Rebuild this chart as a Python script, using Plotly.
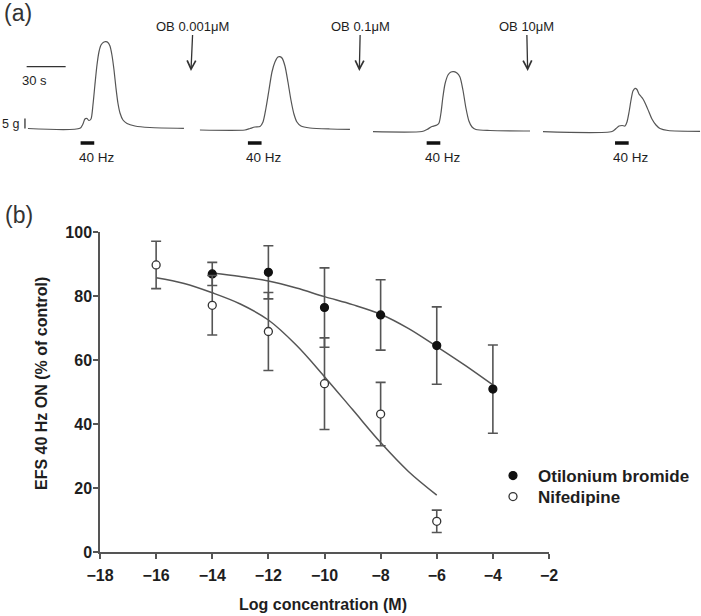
import plotly.graph_objects as go

# ---------------- Panel (b) data ----------------
log_conc_ob = [-14, -12, -10, -8, -6, -4]
efs_ob = [86.9, 87.4, 76.4, 74.1, 64.5, 50.9]
sem_ob = [3.6, 8.3, 12.4, 11.0, 12.1, 13.8]

log_conc_nif = [-16, -14, -12, -10, -8, -6]
efs_nif = [89.7, 77.1, 68.9, 52.6, 43.1, 9.6]
sem_nif = [7.4, 9.3, 12.2, 14.3, 9.9, 3.5]

fit_x_ob = [-14, -13, -12, -11, -10, -9, -8, -7, -6, -5, -4]
fit_y_ob = [87.2, 86.1, 84.7, 82.5, 79.8, 77.3, 74.3, 69.8, 64.2, 58.4, 52.2]
fit_x_nif = [-16, -15, -14, -13, -12, -11, -10, -9, -8, -7, -6]
fit_y_nif = [85.7, 83.9, 81.0, 77.5, 72.5, 64.6, 54.8, 44.5, 34.2, 25.1, 17.8]

x_ticks = [-18, -16, -14, -12, -10, -8, -6, -4, -2]
y_ticks = [0, 20, 40, 60, 80, 100]

# ---------------- Panel (a) data (time s, tension g) ----------------
t1_time = [0, 40, 42.3, 43.8, 45.4, 46.9, 48.5, 50, 51.5, 53.1, 54.6, 56.2, 58.5, 60, 61.5,
           63.1, 64.6, 66.2, 67.7, 69.2, 70.8, 73.1, 76.2, 82.3, 93.8, 120]
t1_tension = [0.75, 0.85, 3, 5.5, 5.75, 4.75, 5.5, 12.5, 22.5, 32.5, 39, 42.5, 44, 44.15, 43.75,
              42, 37.5, 30, 21, 13.5, 8.5, 5, 3.25, 2, 1.25, 0.85]

t2_time = [0, 34.6, 38.5, 42.3, 46.2, 48.5, 50.8, 53.1, 55.4, 57.7, 60, 61.5, 63.1, 65.4,
           67.7, 70, 72.3, 74.6, 77.7, 84.6, 100, 115.4]
t2_tension = [0, 0, 0.75, 1.5, 1.75, 4, 11, 20, 29, 34, 36.5, 36.65, 36, 32,
              24, 15, 8, 4, 2, 1, 0.5, 0.35]

t3_time = [0, 37.7, 41.5, 45.4, 49.2, 50.8, 52.3, 53.8, 55.4, 57.7, 60, 62.3, 64.6, 66.9,
           69.2, 71.5, 73.8, 76.2, 79.2, 90, 120.8]
t3_tension = [-0.85, -0.75, 0.25, 1.75, 2.5, 3.5, 8.5, 16.5, 23, 27.5, 29, 29.15, 28.5, 26.5,
              20, 11, 4.5, 1.5, 0.25, -0.25, -0.5]

t4_time = [0, 53.1, 56.2, 58.5, 60.8, 63.1, 64.6, 66.2, 67.7, 69.2, 70.8, 72.3, 73.8, 75.4,
           76.9, 79.2, 81.5, 83.8, 86.9, 90, 96.2, 120.8]
t4_tension = [-0.85, -0.75, 0.75, 2, 2.25, 2, 4, 9, 15, 19.5, 20.85, 20.25, 18, 16.75,
              15.5, 12.5, 9, 5.5, 2.5, 0.75, -0.25, -0.65]

segment_start = [21.5, 153.8, 286.9, 417.7]      # recording time of each segment (s)
stim_onset = [40.5, 36.9, 41.3, 55.4]            # within-segment 40 Hz onset (s)
stim_duration = 10.5
stim_label = "40 Hz"

drug_labels = ["OB 0.001\u03bcM", "OB 0.1\u03bcM", "OB 10\u03bcM"]
drug_time = [146.9, 276.4, 405.9]

scale_time = 30   # s
scale_tension = 5  # g

# ---------------- Figure ----------------
W, H = 701, 616
TXT = "#1e1e1e"
FONT = "Liberation Sans, Arial, sans-serif"


def px(x, y):
    return x / W, 1 - y / H


fig = go.Figure()

traces_a = [(t1_time, t1_tension), (t2_time, t2_tension),
            (t3_time, t3_tension), (t4_time, t4_tension)]
for i, (tt, gg) in enumerate(traces_a):
    fig.add_trace(go.Scatter(
        x=[segment_start[i] + t for t in tt], y=gg, xaxis="x2", yaxis="y2",
        mode="lines", line=dict(color="#555555", width=1.2, shape="spline", smoothing=0.7),
        showlegend=False, hoverinfo="skip"))
    on = segment_start[i] + stim_onset[i]
    fig.add_trace(go.Scatter(
        x=[on, on + stim_duration], y=[-6.5, -6.5], xaxis="x2", yaxis="y2",
        mode="lines", line=dict(color="#111111", width=3.5),
        showlegend=False, hoverinfo="skip"))
    fig.add_annotation(x=on - 2.8, y=-13.5, xref="x2", yref="y2", text=stim_label,
                       showarrow=False, xanchor="left", yanchor="middle",
                       font=dict(size=13.5, color=TXT, family=FONT))

# scale bars
fig.add_trace(go.Scatter(x=[20.5, 20.5 + scale_time], y=[31.65, 31.65], xaxis="x2", yaxis="y2",
                         mode="lines", line=dict(color="#333333", width=1.3),
                         showlegend=False, hoverinfo="skip"))
fig.add_trace(go.Scatter(x=[19.2, 19.2], y=[0.75, 0.75 + scale_tension], xaxis="x2", yaxis="y2",
                         mode="lines", line=dict(color="#333333", width=1.3),
                         showlegend=False, hoverinfo="skip"))
fig.add_annotation(x=26.9, y=25, xref="x2", yref="y2", text=f"{scale_time} s",
                   showarrow=False, xanchor="center", yanchor="middle",
                   font=dict(size=13, color=TXT, family=FONT))
fig.add_annotation(x=0.3, y=2.8, xref="x2", yref="y2", text=f"{scale_tension} g",
                   showarrow=False, xanchor="left", yanchor="middle",
                   font=dict(size=12.5, color=TXT, family=FONT))

for lbl, tx, dx in zip(drug_labels, drug_time, [2, 1, -1]):
    fig.add_annotation(x=tx, y=29.5, xref="x2", yref="y2", text=lbl, showarrow=True,
                       ax=dx, ay=-45, arrowhead=5, arrowsize=1.3, arrowwidth=1.3,
                       arrowcolor="#333333", font=dict(size=13, color=TXT, family=FONT))

# panel (b) fitted curves
fig.add_trace(go.Scatter(x=fit_x_ob, y=fit_y_ob, mode="lines",
                         line=dict(color="#555555", width=1.5, shape="spline"),
                         showlegend=False, hoverinfo="skip"))
fig.add_trace(go.Scatter(x=fit_x_nif, y=fit_y_nif, mode="lines",
                         line=dict(color="#555555", width=1.5, shape="spline"),
                         showlegend=False, hoverinfo="skip"))

err_style = dict(type="data", thickness=1.6, width=5, color="#555555")
fig.add_trace(go.Scatter(
    x=log_conc_ob, y=efs_ob, mode="markers", name="Otilonium bromide", legend="legend",
    error_y=dict(array=sem_ob, **err_style),
    marker=dict(symbol="circle", size=8, color="#111111", line=dict(color="#111111", width=1.2))))
fig.add_trace(go.Scatter(
    x=log_conc_nif, y=efs_nif, mode="markers", name="Nifedipine", legend="legend2",
    error_y=dict(array=sem_nif, **err_style),
    marker=dict(symbol="circle", size=8, color="white", line=dict(color="#333333", width=1.3))))

axis_common = dict(showline=True, linecolor="#555555", linewidth=1.5, ticks="outside",
                   ticklen=5, tickwidth=1.5, tickcolor="#555555", showgrid=False,
                   zeroline=False, automargin=False,
                   tickfont=dict(size=16, color=TXT, family=FONT, weight="bold"))

legend_common = dict(xanchor="left", yanchor="middle", bgcolor="rgba(0,0,0,0)", itemwidth=40,
                     font=dict(size=17, color=TXT, family=FONT, weight="bold"))

fig.update_layout(
    width=W, height=H, margin=dict(l=0, r=0, t=0, b=0),
    paper_bgcolor="white", plot_bgcolor="white", template="none",
    font=dict(family=FONT, color=TXT),
    xaxis=dict(domain=[100 / W, 549 / W], range=[-18, -2], tickvals=x_ticks,
               anchor="y", ticklabelstandoff=3, **axis_common),
    yaxis=dict(domain=[64 / H, 384 / H], range=[0, 100], tickvals=y_ticks,
               anchor="x", ticklabelstandoff=-2, **axis_common),
    xaxis2=dict(domain=[0, 1], range=[0, W / 1.3], visible=False, anchor="y2"),
    yaxis2=dict(domain=[436 / H, 1], range=[-25, 65], visible=False, anchor="x2"),
    legend=dict(x=488 / W, y=1 - 476 / H, **legend_common),
    legend2=dict(x=488 / W, y=1 - 497 / H, **legend_common),
    showlegend=True,
)

# titles and panel letters
x, y = px(41, 384)
fig.add_annotation(x=x, y=y, xref="paper", yref="paper", text="EFS 40 Hz ON (% of control)",
                   textangle=-90, showarrow=False, xanchor="center", yanchor="middle",
                   font=dict(size=16, color=TXT, family=FONT, weight="bold"))
x, y = px(323, 604)
fig.add_annotation(x=x, y=y, xref="paper", yref="paper", text="Log concentration (M)",
                   showarrow=False, xanchor="center", yanchor="middle",
                   font=dict(size=16, color=TXT, family=FONT, weight="bold"))
x, y = px(18, 13)
fig.add_annotation(x=x, y=y, xref="paper", yref="paper", text="(a)", showarrow=False,
                   xanchor="center", yanchor="middle",
                   font=dict(size=23, color="#333333", family=FONT))
x, y = px(19, 215)
fig.add_annotation(x=x, y=y, xref="paper", yref="paper", text="(b)", showarrow=False,
                   xanchor="center", yanchor="middle",
                   font=dict(size=23, color="#333333", family=FONT))

fig.write_html("out.html", config={"displayModeBar": False},
               post_script="document.body.style.margin='0px';")
